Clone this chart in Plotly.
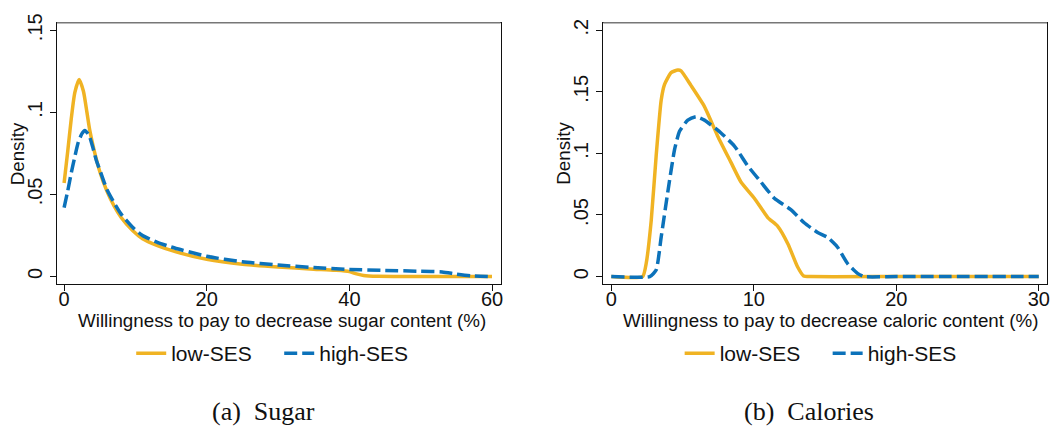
import plotly.graph_objects as go

# ---- data ----
sugar_low_x = [0, 0.5, 1.0, 1.5, 2.1, 2.7, 3.2, 3.6, 4.2, 5, 6, 7, 8, 9.6, 11, 13, 15.7, 20, 25, 30, 35, 38, 40, 41, 42, 44, 50, 55, 60]
sugar_low_y = [0.057, 0.076, 0.096, 0.112, 0.120, 0.113, 0.100, 0.089, 0.077, 0.064, 0.052, 0.043, 0.036, 0.028, 0.023, 0.019, 0.015, 0.0105, 0.0075, 0.0058, 0.0045, 0.0038, 0.0030, 0.0016, 0.0006, 0.0001, 0.0, 0.0, 0.0]
sugar_high_x = [0, 0.5, 1.0, 1.5, 2.0, 2.5, 2.9, 3.5, 4.0, 4.5, 5, 6, 7, 8, 9.6, 11, 13, 15, 20, 25, 30, 35, 40, 45, 50, 53, 55, 57, 60]
sugar_high_y = [0.042, 0.052, 0.063, 0.073, 0.082, 0.087, 0.089, 0.086, 0.079, 0.071, 0.065, 0.053, 0.045, 0.038, 0.030, 0.025, 0.021, 0.018, 0.0123, 0.009, 0.007, 0.0055, 0.0043, 0.0037, 0.0032, 0.0028, 0.0015, 0.0005, 0.0]

cal_low_x = [0, 2.2, 2.45, 2.8, 3.15, 3.5, 3.74, 4.2, 4.67, 4.9, 5.6, 6.54, 7.47, 8.4, 9.1, 10.04, 11.0, 11.67, 12.4, 13.07, 13.5, 14, 20, 30]
cal_low_y = [0, 0, 0.0106, 0.045, 0.098, 0.143, 0.156, 0.1656, 0.1677, 0.167, 0.155, 0.138, 0.114, 0.0927, 0.0768, 0.0636, 0.0477, 0.041, 0.0265, 0.008, 0.0005, 0, 0, 0]
cal_high_x = [0, 2.7, 3.15, 3.5, 3.97, 4.44, 4.79, 5.37, 5.95, 6.54, 7.7, 8.64, 9.57, 10.5, 11.44, 12.6, 13.54, 14.48, 15.18, 15.88, 16.58, 17.28, 17.75, 20, 30]
cal_high_y = [0, 0, 0.0053, 0.0318, 0.0689, 0.103, 0.118, 0.127, 0.1298, 0.127, 0.1166, 0.106, 0.090, 0.0768, 0.0636, 0.0543, 0.0437, 0.0358, 0.0318, 0.0238, 0.0106, 0.0026, 0, 0, 0]

series_names = ["low-SES", "high-SES"]
sugar_ticks = [0, 0.05, 0.1, 0.15]
sugar_ticktext = ["0", ".05", ".1", ".15"]
cal_ticks = [0, 0.05, 0.1, 0.15, 0.2]
cal_ticktext = ["0", ".05", ".1", ".15", ".2"]
sugar_xticks = [0, 20, 40, 60]
cal_xticks = [0, 10, 20, 30]
x_titles = ["Willingness to pay to decrease sugar content (%)",
            "Willingness to pay to decrease caloric content (%)"]
y_title = "Density"
captions = ["(a)  Sugar", "(b)  Calories"]

ORANGE = "#F0B323"
BLUE = "#0C72BA"
FONT = "Liberation Sans, Arial, sans-serif"
TICK_SIZE = 20
TITLE_SIZE = 18.8
LEGEND_SIZE = 21

fig = go.Figure()
fig.add_trace(go.Scatter(x=sugar_low_x, y=sugar_low_y, mode="lines", name=series_names[0],
                         line=dict(color=ORANGE, width=3.5, shape="spline", smoothing=0.6),
                         xaxis="x", yaxis="y", legend="legend"))
fig.add_trace(go.Scatter(x=sugar_high_x, y=sugar_high_y, mode="lines", name=series_names[1],
                         line=dict(color=BLUE, width=3.5, dash="13px,5px", shape="spline", smoothing=0.6),
                         xaxis="x", yaxis="y", legend="legend"))
fig.add_trace(go.Scatter(x=cal_low_x, y=cal_low_y, mode="lines", name=series_names[0],
                         line=dict(color=ORANGE, width=3.5, shape="spline", smoothing=0.5),
                         xaxis="x2", yaxis="y2", legend="legend2"))
fig.add_trace(go.Scatter(x=cal_high_x, y=cal_high_y, mode="lines", name=series_names[1],
                         line=dict(color=BLUE, width=3.5, dash="13px,5px", shape="spline", smoothing=0.5),
                         xaxis="x2", yaxis="y2", legend="legend2"))

W, H = 1060, 427
ydom = [1 - 281 / H, 1 - 14 / H]
axis_common = dict(showline=True, linecolor="#111", linewidth=1.3, mirror=True,
                   ticks="outside", ticklen=6, tickcolor="#111", showgrid=False, zeroline=False,
                   tickfont=dict(family=FONT, size=TICK_SIZE, color="#111"))

fig.update_layout(
    width=W, height=H,
    margin=dict(l=0, r=0, t=0, b=0),
    paper_bgcolor="white", plot_bgcolor="white",
    font=dict(family=FONT, size=TITLE_SIZE, color="#111"),
    showlegend=True,
    xaxis=dict(domain=[57 / W, 502 / W], range=[-1.02, 61.2], tickvals=sugar_xticks, ticklabelstandoff=-9,
               anchor="y", **axis_common),
    yaxis=dict(domain=ydom, range=[-0.0046, 0.1546], tickvals=sugar_ticks, ticktext=sugar_ticktext,
               tickangle=-90, anchor="x", **axis_common),
    xaxis2=dict(domain=[605 / W, 1050 / W], range=[-0.56, 30.58], tickvals=cal_xticks, ticklabelstandoff=-9,
                anchor="y2", **axis_common),
    yaxis2=dict(domain=ydom, range=[-0.0061, 0.2061], tickvals=cal_ticks, ticktext=cal_ticktext,
                tickangle=-90, anchor="x2", **axis_common),
    legend=dict(orientation="h", x=280 / W, xanchor="center", y=1 - 352 / H, yanchor="middle",
                entrywidth=103, font=dict(size=LEGEND_SIZE), bgcolor="rgba(0,0,0,0)"),
    legend2=dict(orientation="h", x=830 / W, xanchor="center", y=1 - 352 / H, yanchor="middle",
                 entrywidth=103, font=dict(size=LEGEND_SIZE), bgcolor="rgba(0,0,0,0)"),
)

# lighter top frame edge, as in the reference
for xr, yr in [("x domain", "y domain"), ("x2 domain", "y2 domain")]:
    fig.add_shape(type="line", xref=xr, yref=yr, x0=0, x1=1, y0=1, y1=1,
                  line=dict(color="#777", width=1.5), layer="above")

# axis titles
for cx, txt in zip([283, 833], x_titles):
    fig.add_annotation(x=cx / W, y=1 - 318 / H, xref="paper", yref="paper", xanchor="center", yanchor="middle",
                       text=txt, showarrow=False, font=dict(family=FONT, size=TITLE_SIZE, color="#111"))
for cx in [17, 565]:
    fig.add_annotation(x=cx / W, y=1 - 147.5 / H, xref="paper", yref="paper", xanchor="center", yanchor="middle",
                       text=y_title, textangle=-90, showarrow=False,
                       font=dict(family=FONT, size=TITLE_SIZE, color="#111"))

# sub-figure captions
for cx, txt in zip([264, 811], captions):
    fig.add_annotation(x=cx / W, y=0, xref="paper", yref="paper", xanchor="center", yanchor="bottom",
                       text=txt, showarrow=False, borderpad=0,
                       font=dict(family="Liberation Serif, serif", size=26, color="#111"))

fig.write_html("out.html")
